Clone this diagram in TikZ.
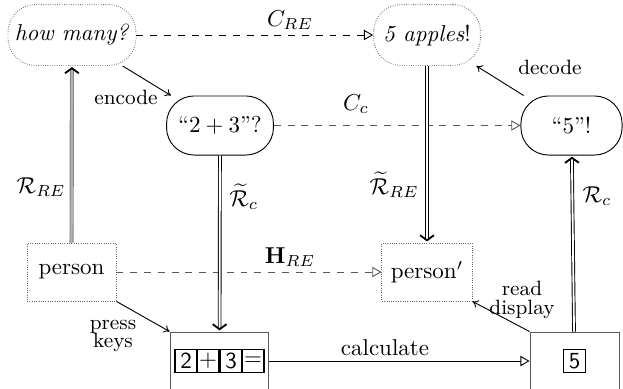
\documentclass[tikz,border=0pt]{standalone}
\usetikzlibrary{arrows.meta}
\begin{document}
\begin{tikzpicture}[x=0.435pt,y=-0.435pt,
  dotbox/.style={draw=gray!80!black, dash pattern=on 0.3pt off 0.7pt, line width=0.4pt, inner sep=0pt},
  solidround/.style={draw, inner sep=0pt, rounded corners=12pt, minimum width=46.5pt, minimum height=25.7pt},
  calcbox/.style={draw=gray!70!black, inner sep=0pt},
  keybox/.style={draw, line width=0.6pt, inner sep=0pt, minimum width=9.6pt, minimum height=10pt, font=\sffamily},
  dashedarrow/.style={dashed, -{Triangle[open,length=4pt,width=4.5pt]}},
  thinarrow/.style={-{To[length=2.5pt,width=3.5pt]}, thin},
  dbl/.style={double, double distance=0.8pt, line width=0.4pt, -{Straight Barb[length=2.2pt,width=6pt,line width=0.8pt,color=black]}, shorten >=0.5pt},
  lbl/.style={inner sep=0pt},
  small/.style={inner sep=0pt, font=\small, align=center}
]
\useasboundingbox (0,0) rectangle (623,388);

% nodes
\node[dotbox, rounded corners=12pt, minimum width=55.7pt, minimum height=26.5pt] (hm) at (72,35) {\textit{how many?}};
\node[dotbox, rounded corners=12pt, minimum width=46.5pt, minimum height=26.5pt] (ap) at (427,35) {\textit{5 apples}!};
\node[solidround] (q) at (220,125.5) {``$2+3$''?};
\node[solidround, minimum width=44pt] (f) at (571.5,125.5) {``5''!};
\node[dotbox, minimum width=38.7pt, minimum height=25.2pt] (p) at (71.5,272) {person};
\node[dotbox, minimum width=39.2pt, minimum height=25.2pt] (pp) at (427,272) {person$'$};
\node[calcbox, minimum width=43pt, minimum height=34.8pt] (c1) at (219.5,372) {};
\node[calcbox, minimum width=38.7pt, minimum height=34.8pt] (c2) at (574.5,372) {};

\node[keybox] (k1) at (186,361) {2};
\node[keybox] (k2) at (208,361) {+};
\node[keybox] (k3) at (231,361) {3};
\node[keybox] (k4) at (253,361) {=};
\node[keybox] (k5) at (574.5,361) {5};

% dashed connectors
\draw[dashedarrow] (hm) -- (ap);
\draw[dashedarrow, gray!70!black] (q) -- (f);
\draw[dashedarrow, gray!70!black] (p) -- (pp);
\draw[-{Triangle[open,length=4pt,width=4.5pt]}] (c1.east |- k4) -- (c2.west |- k4);

% thin arrows
\draw[thinarrow] (hm) -- (q);
\draw[thinarrow] (f) -- (ap);
\draw[thinarrow] (p.south east) -- (c1.north west);
\draw[thinarrow] (c2.north west) -- (pp.south east);

% double arrows
\draw[dbl, draw=gray, double=gray!60, double distance=1pt] (p) -- (hm);
\draw[dbl] (q) -- (c1);
\draw[dbl] (ap) -- (pp);
\draw[dbl] (c2) -- (f);

% labels
\node[lbl] (lcre) at (290,20) {$C_{RE}$};
\node[lbl] (lcc) at (356,104) {$C_c$};
\node[lbl] (lhre) at (290,257) {$\mathbf{H}_{RE}$};
\node[lbl] (lrre) at (41,187) {$\mathcal{R}_{RE}$};
\node[lbl, anchor=west] (ltrc) at (229,197) {$\widetilde{\mathcal{R}}_c$};
\node[lbl, anchor=east] (ltrre) at (419,185) {$\widetilde{\mathcal{R}}_{RE}$};
\node[lbl] (lrc) at (597,196) {$\mathcal{R}_c$};
\node[lbl] (lcalc) at (385,348) {calculate};
\node[small] (lenc) at (126,97) {encode};
\node[small] (ldec) at (550,67) {decode};
\node[small] (lpress) at (113,336) {press\\[-3pt]keys};
\node[small] (lread) at (522,300) {read\\[-3pt]display};
\end{tikzpicture}
\end{document}
